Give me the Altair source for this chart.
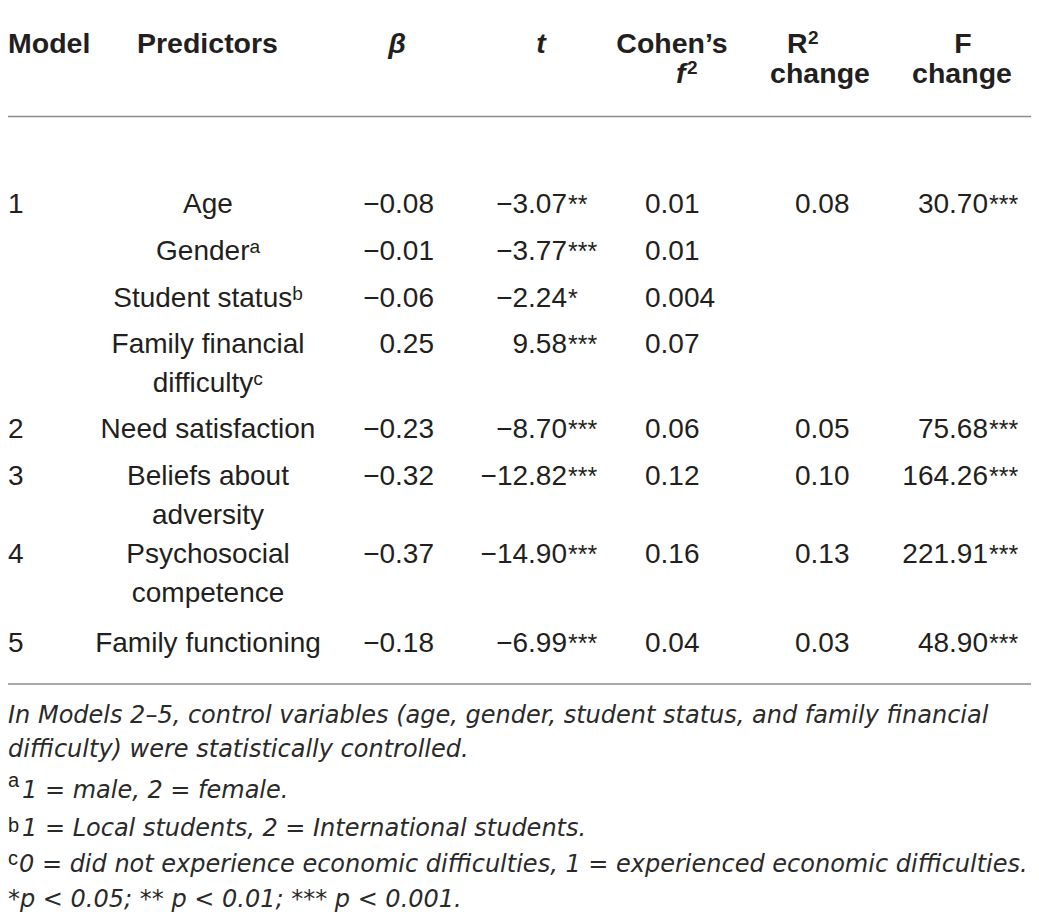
import altair as alt
import pandas as pd

# ---------------- data (table content) ----------------
header_top = ["Model", "Predictors", "β", "t", "Cohen’s", "R", "F"]
header_bottom = ["f", "change", "change"]
header_sups = ["2", "2"]

model_labels = ["1", "2", "3", "4", "5"]
predictor_labels = [
    "Age",
    "Genderᵃ",
    "Student statusᵇ",
    "Family financial\ndifficultyᶜ",
    "Need satisfaction",
    "Beliefs about\nadversity",
    "Psychosocial\ncompetence",
    "Family functioning",
]
beta_values = ["−0.08", "−0.01", "−0.06", "0.25", "−0.23", "−0.32", "−0.37", "−0.18"]
t_values = ["−3.07", "−3.77", "−2.24", "9.58", "−8.70", "−12.82", "−14.90", "−6.99"]
t_sig = ["**", "***", "*", "***", "***", "***", "***", "***"]
cohen_f2 = ["0.01", "0.01", "0.004", "0.07", "0.06", "0.12", "0.16", "0.04"]
r2_change = ["0.08", "0.05", "0.10", "0.13", "0.03"]
f_change = ["30.70", "75.68", "164.26", "221.91", "48.90"]
f_sig = ["***", "***", "***", "***", "***"]

footnote_lines = [
    "In Models 2–5, control variables (age, gender, student status, and family financial",
    "difficulty) were statistically controlled.",
    "1 = male, 2 = female.",
    "1 = Local students, 2 = International students.",
    "0 = did not experience economic difficulties, 1 = experienced economic difficulties.",
    "*p < 0.05; ** p < 0.01; *** p < 0.001.",
]
footnote_marks = ["a", "b", "c"]

# ---------------- layout (page pixel grid) ----------------
W, H = 1023, 904
M = 8
xs = alt.Scale(domain=[M, M + W], range=[0, W], zero=False, nice=False)
ys = alt.Scale(domain=[M, M + H], range=[0, H], zero=False, nice=False)

row_base = [213, 260, 307, 353, 438, 485, 563, 652]
model_rows = [0, 4, 5, 6, 7]
head_x_top = [8, 137, 397, 541, 672, 787, 963]
head_align_top = ["left", "left", "center", "center", "center", "left", "center"]
head_italic_top = [False, False, True, True, False, False, False]
head_x_bottom = [676, 820, 962]
head_align_bottom = ["left", "center", "center"]
head_italic_bottom = [True, False, False]
head_y = [53, 83]
sup_x = [808, 687]
sup_y = [44, 74]

col_model = 8
col_pred = 208
col_beta = 434
col_t = 567
col_f2 = 645
col_r2 = 795
col_F = 988

foot_x = [8, 8, 22, 22, 19, 8]
foot_y = [723, 757, 798, 836, 872, 907]
mark_y = [787, 832, 865]

rule_y = [5, 116.5, 684]

FONT = "Liberation Sans"
FOOTFONT = "DejaVu Sans"
TXT = "#231f20"
BODY = 28
HEAD = 28.5


def enc(df):
    return dict(
        x=alt.X("x:Q", scale=xs, axis=None),
        y=alt.Y("y:Q", scale=ys, axis=None),
        text=alt.Text("label:N"),
    )


def layer(df, align="left", size=BODY, weight="normal", style="normal", font=FONT,
          color=TXT, line_height=39):
    return alt.Chart(df).mark_text(
        align=align, baseline="alphabetic", font=font, fontSize=size,
        fontWeight=weight, fontStyle=style, color=color, lineBreak="\n",
        lineHeight=line_height,
    ).encode(**enc(df))


layers = []

# rules
rules_df = pd.DataFrame({"x": [8] * 3, "x2": [1032] * 3, "y": rule_y})
layers.append(
    alt.Chart(rules_df).mark_rule(color="#8c8c8c", strokeWidth=1.6).encode(
        x=alt.X("x:Q", scale=xs, axis=None),
        x2="x2:Q",
        y=alt.Y("y:Q", scale=ys, axis=None),
    )
)

# header
for lab, x, al, it in zip(header_top, head_x_top, head_align_top, head_italic_top):
    df = pd.DataFrame({"x": [x], "y": [head_y[0]], "label": [lab]})
    layers.append(layer(df, align=al, size=HEAD, weight="bold",
                        style="italic" if it else "normal"))
for lab, x, al, it in zip(header_bottom, head_x_bottom, head_align_bottom, head_italic_bottom):
    df = pd.DataFrame({"x": [x], "y": [head_y[1]], "label": [lab]})
    layers.append(layer(df, align=al, size=HEAD, weight="bold",
                        style="italic" if it else "normal"))
layers.append(layer(pd.DataFrame({"x": sup_x, "y": sup_y, "label": header_sups}),
                    size=19, weight="bold"))

# body
mrow_y = [row_base[i] for i in model_rows]
layers.append(layer(pd.DataFrame({"x": col_model, "y": mrow_y, "label": model_labels})))
layers.append(layer(pd.DataFrame({"x": col_pred, "y": row_base, "label": predictor_labels}),
                    align="center"))
layers.append(layer(pd.DataFrame({"x": col_beta, "y": row_base, "label": beta_values}),
                    align="right"))
layers.append(layer(pd.DataFrame({"x": col_t, "y": row_base, "label": t_values}),
                    align="right"))
layers.append(layer(pd.DataFrame({"x": col_t + 1, "y": row_base, "label": t_sig}),
                    align="left", size=25))
layers.append(layer(pd.DataFrame({"x": col_f2, "y": row_base, "label": cohen_f2})))
layers.append(layer(pd.DataFrame({"x": col_r2, "y": mrow_y, "label": r2_change})))
layers.append(layer(pd.DataFrame({"x": col_F, "y": mrow_y, "label": f_change}),
                    align="right"))
layers.append(layer(pd.DataFrame({"x": col_F + 1, "y": mrow_y, "label": f_sig}),
                    align="left", size=25))

# footnotes
layers.append(layer(pd.DataFrame({"x": foot_x, "y": foot_y, "label": footnote_lines}),
                    size=24, style="italic", font=FOOTFONT, color="#2a2a2a"))
layers.append(layer(pd.DataFrame({"x": [8, 8, 8], "y": mark_y, "label": footnote_marks}),
                    size=20, font=FONT))

chart = alt.layer(*layers).properties(
    width=W, height=H, padding=0,
    autosize=alt.AutoSizeParams(type="none"),
    background="white",
).configure_view(strokeOpacity=0)

chart.save("out.html", embed_options={"renderer": "svg", "actions": False})
